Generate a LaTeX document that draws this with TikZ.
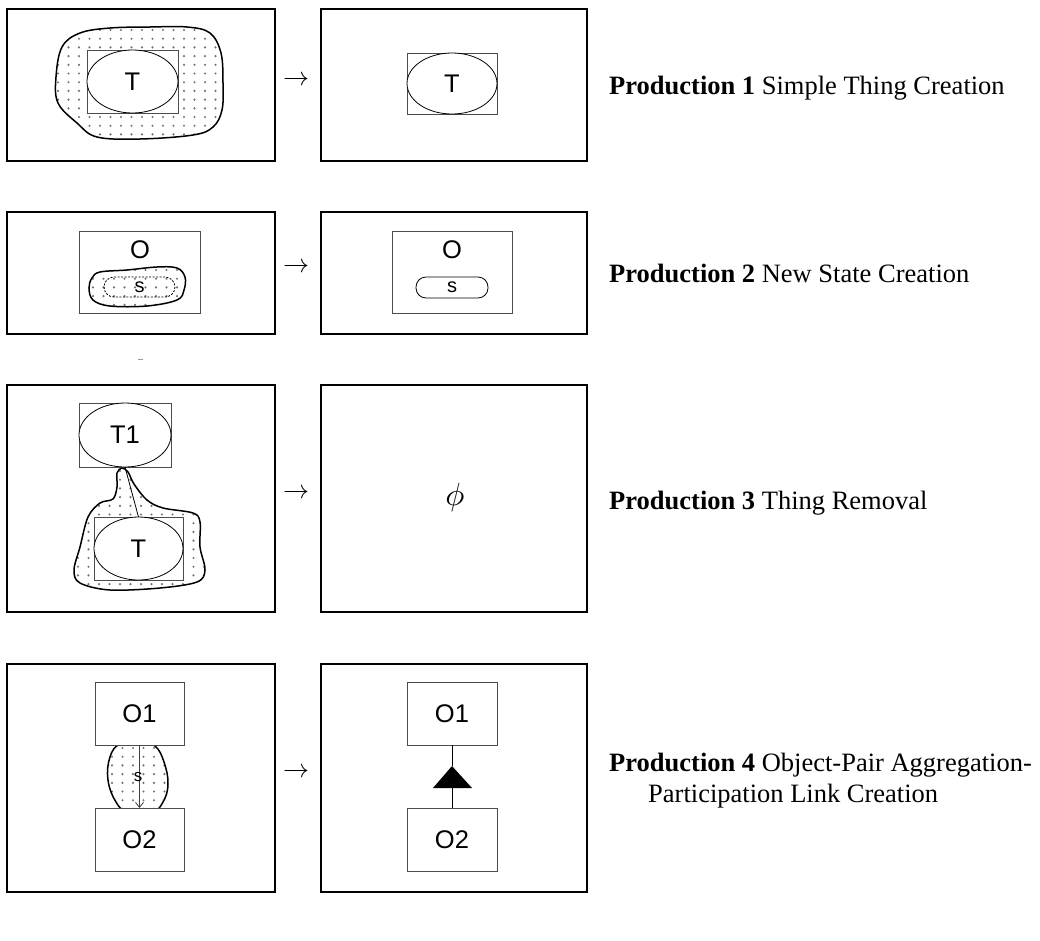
\documentclass[tikz,border=0pt]{standalone}
\usepackage{fontspec}
\setmainfont{Liberation Serif}
\newfontfamily\sansf{Liberation Sans}
\usetikzlibrary{shapes.geometric,arrows.meta}
\newcommand\stipple[4]{%
  \foreach \i in {0,...,#2}{\foreach \j in {0,...,#4}{%
    \fill[dotc] ({#1+10.5*\i},{#3+8.7*\j}) circle[radius=1.2pt];}}}
\begin{document}
\begin{tikzpicture}[x=1pt,y=-1pt,
  frame/.style={draw,line width=2pt,inner sep=0pt,outer sep=0pt},
  irect/.style={draw=black!70,line width=1pt,fill=white,inner sep=0pt,outer sep=0pt},
  ell/.style={ellipse,draw,line width=0.8pt,fill=white,inner sep=0pt,outer sep=0pt,font=\sansf\fontsize{25.5}{28}\selectfont},
  lab/.style={font=\sansf\fontsize{25.5}{28}\selectfont,inner sep=0pt},
  slab/.style={font=\sansf\fontsize{20}{22}\selectfont,inner sep=0pt},
  pill/.style={draw,line width=0.8pt,rounded corners=10pt,inner sep=0pt,outer sep=0pt},
  blob/.style={draw,line width=1.5pt},
  desc/.style={anchor=base west,font=\fontsize{26.5}{31}\selectfont,inner sep=0pt},
  arr/.style={scale=2.6,inner sep=0pt},
  dotc/.style={fill=black!55},
  conn/.style={draw,line width=0.8pt}
]
\useasboundingbox (0,0) rectangle (1040,940);

% ---------- Row 1 ----------
\node[frame,minimum width=268pt,minimum height=152pt] (f1l) at (141,85) {};
\node[frame,minimum width=266pt,minimum height=152pt] (f1r) at (454,85) {};
\begin{scope}
\clip plot[smooth cycle,tension=0.6] coordinates {(62,47) (80,33) (110,28) (150,27) (187,27) (210,33) (221,53) (223,83) (222,110) (213,127) (193,135) (140,139) (97,137) (77,123) (58,103) (56,77)};
\stipple{58}{16}{30}{13}
\end{scope}
\draw[blob] plot[smooth cycle,tension=0.6] coordinates {(62,47) (80,33) (110,28) (150,27) (187,27) (210,33) (221,53) (223,83) (222,110) (213,127) (193,135) (140,139) (97,137) (77,123) (58,103) (56,77)};
\node[irect,minimum width=91pt,minimum height=63pt] (r1a) at (132.5,81.5) {};
\node[ell,minimum width=91pt,minimum height=63pt] (e1a) at (r1a) {T};
\node[irect,minimum width=90pt,minimum height=61pt] (r1b) at (452,83.5) {};
\node[ell,minimum width=90pt,minimum height=61pt] (e1b) at (r1b) {T};
\node[arr] (a1) at (296,81) {$\rightarrow$};
\node[desc] (p1) at (609,94) {\textbf{Production 1} Simple Thing Creation};

% ---------- Row 2 ----------
\node[frame,minimum width=268pt,minimum height=122pt] (f2l) at (141,273) {};
\node[frame,minimum width=266pt,minimum height=122pt] (f2r) at (454,273) {};
\node[irect,minimum width=121pt,minimum height=82pt] (r2a) at (139.5,272) {};
\node[lab] (o2a) at (140,250) {O};
\begin{scope}
\clip plot[smooth cycle,tension=0.6] coordinates {(92,278) (100,272) (127,270) (157,267) (177,268) (185,277) (184,290) (177,300) (147,306) (110,306) (93,300) (89,288)};
\stipple{93}{9}{270}{4}
\end{scope}
\draw[blob] plot[smooth cycle,tension=0.6] coordinates {(92,278) (100,272) (127,270) (157,267) (177,268) (185,277) (184,290) (177,300) (147,306) (110,306) (93,300) (89,288)};
\node[pill,dashed,dash pattern=on 2pt off 1.5pt,minimum width=71pt,minimum height=20pt] (s2a) at (139.5,287) {};
\node[slab] at (s2a) {s};
\node[irect,minimum width=120pt,minimum height=82pt] (r2b) at (452,272) {};
\node[lab] (o2b) at (452,250) {O};
\node[pill,minimum width=72pt,minimum height=21pt,slab] (s2b) at (452,287.5) {s};
\node[arr] (a2) at (296,268) {$\rightarrow$};
\node[desc] (p2) at (609,282) {\textbf{Production 2} New State Creation};

% ---------- Row 3 ----------
\draw[black!40,line width=1pt] (138,359) -- (143,359);
\node[frame,minimum width=268pt,minimum height=227pt] (f3l) at (141,498.5) {};
\node[frame,minimum width=266pt,minimum height=227pt] (f3r) at (454,498.5) {};
\begin{scope}
\clip plot[smooth cycle,tension=0.55] coordinates {(122,468) (128,472) (134,484) (147,500) (163,508) (193,513) (200,522) (200,547) (205,570) (197,582) (160,588) (110,590) (80,583) (74,570) (80,547) (88,517) (100,503) (113,499) (117,487) (117,473)};
\stipple{78}{13}{471}{14}
\end{scope}
\draw[blob] plot[smooth cycle,tension=0.55] coordinates {(122,468) (128,472) (134,484) (147,500) (163,508) (193,513) (200,522) (200,547) (205,570) (197,582) (160,588) (110,590) (80,583) (74,570) (80,547) (88,517) (100,503) (113,499) (117,487) (117,473)};
\node[irect,minimum width=92pt,minimum height=64pt] (r3t1) at (125,435) {};
\node[ell,minimum width=92pt,minimum height=64pt] (t1) at (r3t1) {T1};
\node[irect,minimum width=89pt,minimum height=63pt] (r3t) at (138.5,548.5) {};
\node[ell,minimum width=89pt,minimum height=63pt] (t) at (r3t) {T};
\draw[conn] (t1.south) -- (t.north);
\node[scale=3.2,inner sep=0pt] (phi) at (455,497) {$\phi$};
\node[arr] (a3) at (296,494) {$\rightarrow$};
\node[desc] (p3) at (609,509) {\textbf{Production 3} Thing Removal};

% ---------- Row 4 ----------
\node[frame,minimum width=268pt,minimum height=228pt] (f4l) at (141,778) {};
\node[frame,minimum width=266pt,minimum height=228pt] (f4r) at (454,778) {};
\begin{scope}
\clip plot[smooth cycle,tension=0.7] coordinates {(120,744) (140,742) (155,746) (164,762) (168,784) (163,802) (152,812) (128,812) (116,802) (108,780) (110,757)};
\stipple{112}{6}{748}{7}
\end{scope}
\draw[blob] plot[smooth cycle,tension=0.7] coordinates {(120,744) (140,742) (155,746) (164,762) (168,784) (163,802) (152,812) (128,812) (116,802) (108,780) (110,757)};
\node[irect,minimum width=89pt,minimum height=63pt,lab] (o1l) at (139.5,713.5) {O1};
\node[irect,minimum width=89pt,minimum height=63pt,lab] (o2l) at (139.5,839.5) {O2};
\draw[black!75,line width=0.8pt,-{Straight Barb[length=5pt,width=8pt]}] (o1l.south) -- (o2l.north);
\node[font=\sansf\fontsize{17}{19}\selectfont,inner sep=0pt] (sl) at (138,777) {s};
\node[irect,minimum width=90pt,minimum height=63pt,lab] (o1r) at (452,713.5) {O1};
\node[irect,minimum width=90pt,minimum height=63pt,lab] (o2r) at (452,839.5) {O2};
\coordinate (apex) at (452,766);
\coordinate (basec) at (452,788);
\fill (apex) -- (433,788) -- (472,788) -- cycle;
\draw[conn] (o1r.south) -- (apex);
\draw[conn] (basec) -- (o2r.north);
\node[arr] (a4) at (296,773) {$\rightarrow$};
\node[desc] (p4) at (609,771) {\textbf{Production 4} Object-Pair Aggregation-};
\node[desc] (p4b) at (648,802) {Participation Link Creation};
\end{tikzpicture}
\end{document}
